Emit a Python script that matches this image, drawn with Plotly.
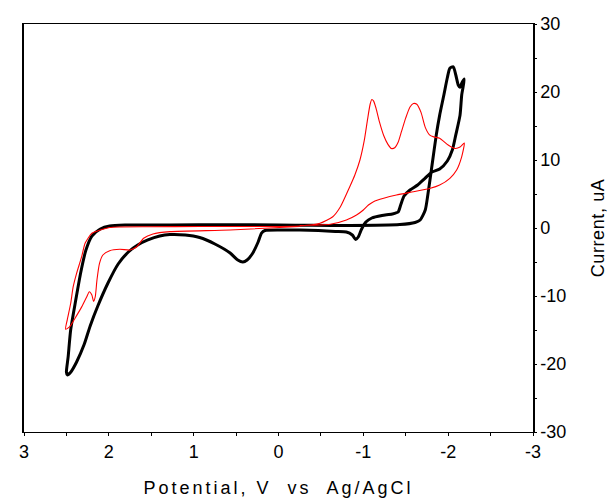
import plotly.graph_objects as go

# cyclic voltammograms (potential in V vs Ag/AgCl, current in uA)
black_v = [0.0, -0.40, -0.84, -1.43, -1.61, -1.67, -1.73, -1.76, -1.81, -1.86, -1.90, -1.95, -1.99, -2.02, -2.06, -2.09, -2.12, -2.14, -2.16, -2.19,
           -2.16, -2.14, -2.09, -2.05, -1.99, -1.90, -1.81, -1.73, -1.64, -1.55, -1.48, -1.44, -1.41, -1.34, -1.22, -1.10, -1.03, -0.98, -0.94, -0.91,
           -0.87, -0.80, -0.67, -0.47, -0.25, -0.02, 0.16, 0.20, 0.24, 0.31, 0.37, 0.42, 0.48, 0.57, 0.75, 0.93, 1.10, 1.28, 1.40, 1.54,
           1.66, 1.77, 1.89, 2.01, 2.13, 2.22, 2.29, 2.38, 2.45, 2.49, 2.50, 2.48, 2.45, 2.39, 2.33, 2.27, 2.20, 2.10, 1.99, 1.81,
           1.28, 0.60, 0.0]
black_i = [0.44, 0.40, 0.37, 0.51, 0.81, 1.18, 2.65, 4.85, 9.26, 13.7, 16.6, 19.6, 22.1, 23.5, 23.7, 22.5, 21.0, 20.7, 21.3, 21.9,
           19.6, 16.6, 13.7, 11.5, 9.85, 8.68, 8.24, 7.35, 6.32, 5.59, 4.71, 3.38, 2.35, 2.06, 1.84, 1.47, 0.88, -0.15, -1.32, -1.69,
           -1.03, -0.59, -0.51, -0.37, -0.29, -0.29, -0.37, -0.74, -2.06, -3.82, -4.71, -5.0, -4.71, -3.68, -2.35, -1.40, -1.03, -0.96, -1.18, -1.76,
           -2.50, -3.53, -5.29, -8.09, -11.47, -14.4, -17.1, -19.7, -21.2, -21.6, -21.2, -19.0, -15.0, -10.6, -6.47, -3.24, -1.18, -0.15, 0.29, 0.44,
           0.44, 0.48, 0.44]

red_v = [-0.25, -0.61, -0.80, -0.92, -1.00, -1.06, -1.12, -1.24, -1.39, -1.59, -1.79, -1.90, -2.02, -2.10, -2.16, -2.19,
         -2.14, -2.08, -2.00, -1.90, -1.83, -1.78, -1.73, -1.68, -1.63, -1.59, -1.55, -1.50, -1.45, -1.41, -1.37, -1.33, -1.29,
         -1.24, -1.19, -1.15, -1.12, -1.10, -1.08, -1.05, -1.01, -0.96, -0.90, -0.84, -0.73, -0.64, -0.49, -0.25,
         0.34, 0.93, 1.52, 1.87, 1.99, 2.10, 2.20, 2.28, 2.32, 2.38, 2.42, 2.45, 2.49, 2.51,
         2.46, 2.40, 2.32, 2.26, 2.23, 2.20, 2.18, 2.16, 2.14, 2.11, 2.07, 1.99, 1.87, 1.75, 1.67, 1.59, 1.48, 1.28, 0.57, -0.25]
red_i = [0.37, 0.54, 1.18, 1.91, 2.65, 3.38, 3.87, 4.37, 4.85, 5.34, 5.84, 6.32, 7.31, 8.53, 10.5, 12.5,
         11.9, 11.7, 12.2, 13.2, 13.4, 13.7, 14.8, 17.0, 18.2, 18.3, 17.8, 16.2, 14.2, 12.6, 11.8, 11.7, 12.3,
         13.6, 15.6, 17.6, 18.7, 18.9, 18.2, 16.0, 12.8, 10.0, 7.8, 6.07, 3.13, 1.66, 0.69, 0.29,
         0.22, 0.22, 0.18, 0.15, 0.07, -0.29, -0.78, -2.25, -4.22, -6.66, -8.63, -11.1, -13.5, -14.9,
         -14.5, -13.3, -11.6, -10.1, -9.37, -9.85, -10.8, -10.1, -7.65, -5.19, -3.97, -3.34, -3.13, -3.24, -2.75, -1.51, -0.88, -0.54, -0.29, 0.22]

x_ticks = [3, 2, 1, 0, -1, -2, -3]
y_ticks = [-30, -20, -10, 0, 10, 20, 30]

font = "Liberation Sans, Arial, sans-serif"

fig = go.Figure()
fig.add_trace(go.Scatter(x=black_v, y=black_i, mode="lines",
                         line=dict(color="black", width=3, shape="spline", smoothing=0.6)))
fig.add_trace(go.Scatter(x=red_v, y=red_i, mode="lines",
                         line=dict(color="#ff0000", width=1.1, shape="spline", smoothing=0.6)))

tickfont = dict(family=font, size=18, color="black")

fig.update_layout(
    width=612, height=498,
    margin=dict(l=24, r=79, t=24, b=66),
    plot_bgcolor="white", paper_bgcolor="white",
    showlegend=False,
    xaxis=dict(range=[3, -3], tickvals=x_ticks, ticktext=[str(v) for v in x_ticks],
               ticks="outside", ticklen=3, tickwidth=1, tickcolor="black",
               minor=dict(dtick=0.5, ticks="outside", ticklen=3, tickcolor="black"),
               showline=True, linecolor="black", linewidth=1.2, mirror=True,
               showgrid=False, zeroline=False, tickfont=tickfont),
    yaxis=dict(range=[-30, 30], side="right", tickvals=y_ticks, ticktext=[str(v) for v in y_ticks],
               ticks="outside", ticklen=2, tickwidth=1, tickcolor="black",
               minor=dict(dtick=5, ticks="outside", ticklen=2, tickcolor="black"),
               showline=True, linecolor="black", linewidth=1.5, mirror=True,
               showgrid=False, zeroline=False, tickfont=tickfont),
    # overlay axes only to make the tick marks cross the axis lines
    xaxis2=dict(range=[3, -3], overlaying="x", anchor="y", side="bottom",
                tickvals=x_ticks, ticks="inside", ticklen=3, tickcolor="black",
                minor=dict(dtick=0.5, ticks="inside", ticklen=3, tickcolor="black"),
                showticklabels=False, showgrid=False, showline=False, zeroline=False),
    yaxis2=dict(range=[-30, 30], overlaying="y", anchor="x", side="right",
                tickvals=y_ticks, ticks="inside", ticklen=4, tickcolor="black",
                minor=dict(dtick=5, ticks="inside", ticklen=4, tickcolor="black"),
                showticklabels=False, showgrid=False, showline=False, zeroline=False),
    annotations=[
        dict(text="Potential, V  vs  Ag/AgCl", xref="x", yref="paper", x=0, y=0,
             yshift=-56, showarrow=False, xanchor="center", yanchor="middle",
             font=dict(family=font, size=18, color="black")),
        dict(text="Current, uA", xref="paper", yref="paper", x=1, y=0.5,
             xshift=65, showarrow=False, textangle=-90, xanchor="center", yanchor="middle",
             font=dict(family=font, size=18, color="black")),
    ],
)

# no page margin; the original axis titles are letter-spaced
post = """
document.body.style.margin = '0';
document.body.style.overflow = 'hidden';
var t = document.querySelectorAll('.annotation-text');
if (t.length > 1) { t[0].style.letterSpacing = '3px'; t[1].style.letterSpacing = '0.6px'; }
"""
fig.write_html("out.html", post_script=post, config={"displayModeBar": False})
